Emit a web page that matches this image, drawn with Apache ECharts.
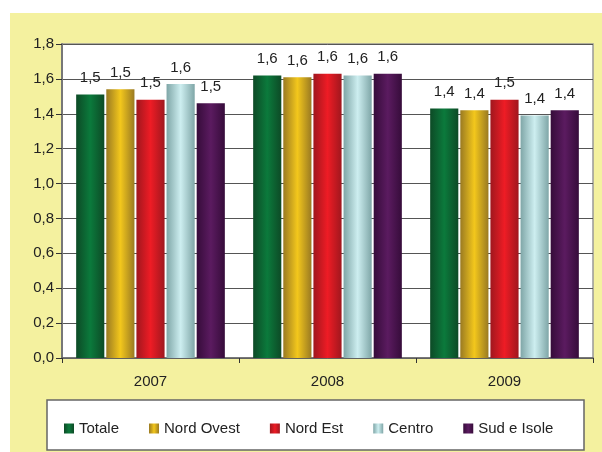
<!DOCTYPE html>
<html><head><meta charset="utf-8">
<script src="https://cdn.jsdelivr.net/npm/echarts@6/dist/echarts.min.js"></script>
<style>html,body{margin:0;padding:0;background:#fff}#c{width:602px;height:452px}</style>
</head><body><div id="c"></div>
<script>
const categories = ['2007', '2008', '2009'];
const seriesNames = ['Totale', 'Nord Ovest', 'Nord Est', 'Centro', 'Sud e Isole'];
const totale = [1.51, 1.62, 1.43];
const nordOvest = [1.54, 1.61, 1.42];
const nordEst = [1.48, 1.63, 1.48];
const centro = [1.57, 1.62, 1.39];
const sudIsole = [1.46, 1.63, 1.42];
const yTicks = [0, 0.2, 0.4, 0.6, 0.8, 1.0, 1.2, 1.4, 1.6, 1.8];

const values = [totale, nordOvest, nordEst, centro, sudIsole];
const palette = [
  ['#0d4a26', '#0b7a3c'],
  ['#9a7a22', '#f3c71c'],
  ['#a0171e', '#ee1c25'],
  ['#7fa6a7', '#cdeef0'],
  ['#360c3a', '#5b1b60']
];
function grad(p) {
  return new echarts.graphic.LinearGradient(0, 0, 1, 0, [
    {offset: 0, color: p[0]}, {offset: 0.5, color: p[1]}, {offset: 1, color: p[0]}
  ]);
}
const fmt = v => v.toFixed(1).replace('.', ',');
const font = 'Liberation Sans, Arial, sans-serif';

const chart = echarts.init(document.getElementById('c'));
chart.setOption({
  animation: false,
  textStyle: {fontFamily: font},
  graphic: [
    {type: 'rect', z: -10, shape: {x: 10, y: 13, width: 592, height: 439}, style: {fill: '#f4f19f'}},
    {type: 'rect', z: -5, shape: {x: 47, y: 400, width: 537, height: 50}, style: {fill: '#ffffff', stroke: '#666', lineWidth: 1.5}}
  ],
  grid: {left: 62, right: 9, top: 44, bottom: 94, show: true, backgroundColor: '#fff', borderColor: '#999', borderWidth: 1.5},
  legend: {
    data: seriesNames, left: 59, top: 416, itemWidth: 10, itemHeight: 10, itemGap: 30,
    icon: 'rect',
    textStyle: {fontSize: 15, color: '#222', fontFamily: font}
  },
  xAxis: {
    type: 'category', data: categories,
    axisLine: {lineStyle: {color: '#666', width: 1.5}},
    axisTick: {show: true, length: 5, lineStyle: {color: '#333'}},
    axisLabel: {fontSize: 15, color: '#222', margin: 16}
  },
  yAxis: {
    type: 'value', min: 0, max: 1.8, interval: 0.2,
    axisLine: {show: true, lineStyle: {color: '#777', width: 2}},
    axisTick: {show: true, length: 6, inside: false, lineStyle: {color: '#333'}},
    splitLine: {lineStyle: {color: '#555', width: 1}},
    axisLabel: {fontSize: 15, color: '#222', margin: 8, formatter: v => fmt(v)}
  },
  series: seriesNames.map((n, i) => ({
    name: n, type: 'bar', data: values[i],
    barGap: '7%', barCategoryGap: '16%',
    itemStyle: {color: grad(palette[i])},
    label: {show: true, position: 'top', distance: 9, fontSize: 15, color: '#222', formatter: p => fmt(p.value)}
  }))
});
</script></body></html>
